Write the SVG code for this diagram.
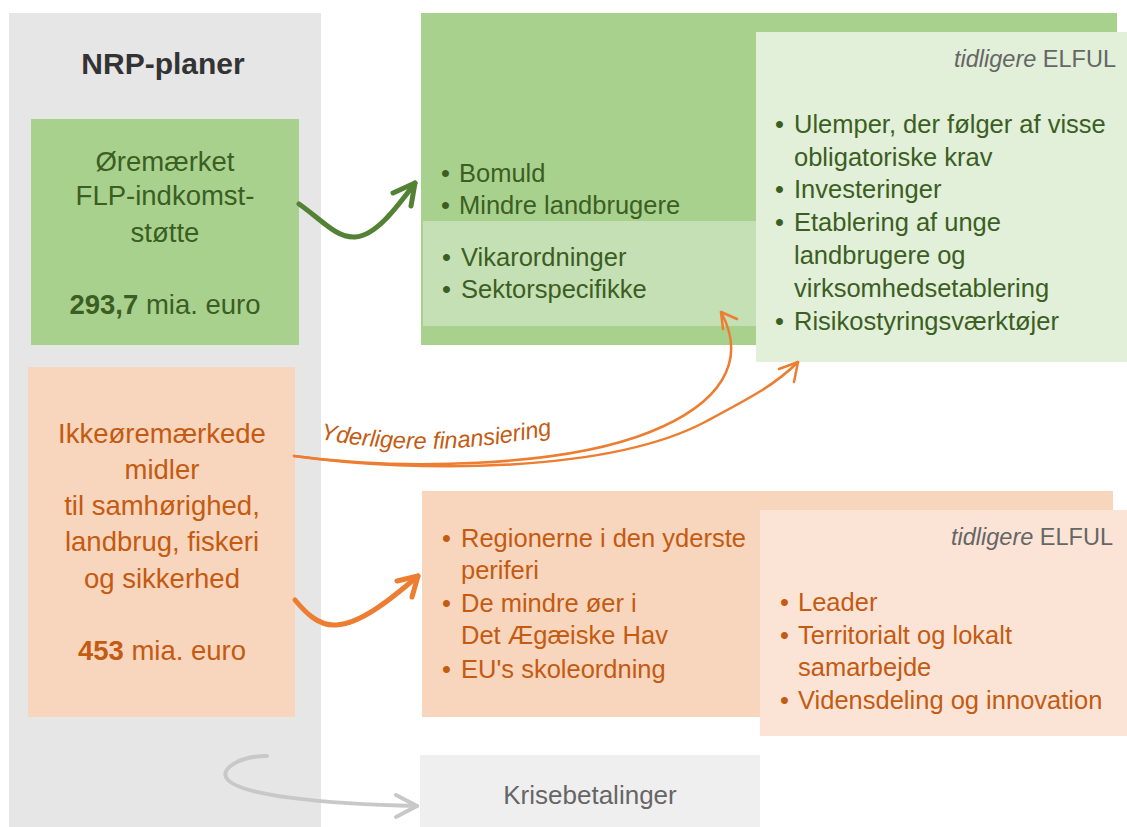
<svg xmlns="http://www.w3.org/2000/svg" width="1127" height="827" viewBox="0 0 1127 827">
<style>
text{font-family:"Liberation Sans",Arial,sans-serif;}
.g{fill:#3b5e23}
.o{fill:#c55a11}
.gr{fill:#666666}
.t28{font-size:27.5px}
.t24{font-size:25.5px}
.t22{font-size:23.5px}
.b{font-weight:bold}
.it{font-style:italic}
.mid{text-anchor:middle}
.end{text-anchor:end}
</style>
<defs>
<path id="lblpath" d="M320,439 Q440,462 566,431"/>
</defs>
<rect width="1127" height="827" fill="#ffffff"/>
<g id="nrp">
<rect x="9" y="13" width="312" height="814" fill="#e6e6e6"/>
<text x="163" y="74" class="mid b" font-size="30" fill="#333333">NRP-planer</text>
</g>
<g id="oremaerket">
<rect x="31" y="119" width="268" height="226" fill="#a9d18e"/>
<text class="g t28 mid" x="165"><tspan x="165" y="171">Øremærket</tspan><tspan x="165" y="205">FLP-indkomst-</tspan><tspan x="165" y="242">støtte</tspan><tspan x="165" y="314"><tspan font-weight="bold">293,7</tspan> mia. euro</tspan></text>
</g>
<g id="ikkeoremaerkede">
<rect x="28" y="367" width="267" height="350" fill="#f8d5bd"/>
<text class="o t28 mid" x="162"><tspan x="162" y="443">Ikkeøremærkede</tspan><tspan x="162" y="479">midler</tspan><tspan x="162" y="515">til samhørighed,</tspan><tspan x="162" y="551">landbrug, fiskeri</tspan><tspan x="162" y="588">og sikkerhed</tspan><tspan x="162" y="660"><tspan font-weight="bold">453</tspan> mia. euro</tspan></text>
</g>
<g id="green-main">
<rect x="421" y="13" width="696" height="332" fill="#a9d18e"/>
<text class="g t24"><tspan x="441" y="182">•</tspan><tspan x="441" y="214">•</tspan></text>
<text class="g t24"><tspan x="459" y="182">Bomuld</tspan><tspan x="459" y="214">Mindre landbrugere</tspan></text>
</g>
<g id="green-inner">
<rect x="423" y="221" width="333" height="105" fill="#c5e0b4"/>
<text class="g t24"><tspan x="442" y="266">•</tspan><tspan x="442" y="298">•</tspan></text>
<text class="g t24"><tspan x="461" y="266">Vikarordninger</tspan><tspan x="461" y="298">Sektorspecifikke</tspan></text>
</g>
<g id="green-elful">
<rect x="756" y="32" width="371" height="330" fill="#e2efd9"/>
<text class="gr t22 end" x="1116" y="67"><tspan font-style="italic">tidligere</tspan> ELFUL</text>
<text class="g t24"><tspan x="775" y="133">•</tspan><tspan x="775" y="198">•</tspan><tspan x="775" y="231">•</tspan><tspan x="775" y="330">•</tspan></text>
<text class="g t24"><tspan x="794" y="133">Ulemper, der følger af visse</tspan><tspan x="794" y="166">obligatoriske krav</tspan><tspan x="794" y="198">Investeringer</tspan><tspan x="794" y="231">Etablering af unge</tspan><tspan x="794" y="264">landbrugere og</tspan><tspan x="794" y="297">virksomhedsetablering</tspan><tspan x="794" y="330">Risikostyringsværktøjer</tspan></text>
</g>
<g id="orange-main">
<rect x="422" y="491" width="691" height="226" fill="#f8d5bd"/>
<text class="o t24"><tspan x="442" y="547">•</tspan><tspan x="442" y="612">•</tspan><tspan x="442" y="678">•</tspan></text>
<text class="o t24"><tspan x="461" y="547">Regionerne i den yderste</tspan><tspan x="461" y="579">periferi</tspan><tspan x="461" y="612">De mindre øer i</tspan><tspan x="461" y="644">Det Ægæiske Hav</tspan><tspan x="461" y="678">EU's skoleordning</tspan></text>
</g>
<g id="orange-elful">
<rect x="760" y="510" width="367" height="226" fill="#fbe4d6"/>
<text class="gr t22 end" x="1113" y="545"><tspan font-style="italic">tidligere</tspan> ELFUL</text>
<text class="o t24"><tspan x="780" y="611">•</tspan><tspan x="780" y="644">•</tspan><tspan x="780" y="709">•</tspan></text>
<text class="o t24"><tspan x="798" y="611">Leader</tspan><tspan x="798" y="644">Territorialt og lokalt</tspan><tspan x="798" y="676">samarbejde</tspan><tspan x="798" y="709">Vidensdeling og innovation</tspan></text>
</g>
<g id="krise">
<rect x="420" y="755" width="340" height="72" fill="#efefef"/>
<text class="gr mid" font-size="26" x="590" y="804">Krisebetalinger</text>
</g>
<g id="connectors" fill="none" stroke-linecap="round" stroke-linejoin="round">
<path d="M299,204 C322,220 336,238 355,237 C375,236 395,210 415,183" stroke="#548235" stroke-width="5"/>
<path d="M393,193 L415,183 L411,206" stroke="#548235" stroke-width="5"/>
<path d="M295,600 C305,612 318,626 336,625 C360,624 390,600 418,576" stroke="#ed7d31" stroke-width="5"/>
<path d="M397,581 L418,576 L412,597" stroke="#ed7d31" stroke-width="5"/>
<path d="M294,456 C400,470 560,468 650,432 C720,404 748,362 721,312" stroke="#ed7d31" stroke-width="2.5"/>
<path d="M737,319 L721,312 L723,329" stroke="#ed7d31" stroke-width="2.5"/>
<path d="M294,456 C420,474 610,472 705,422 C750,398 775,385 798,362" stroke="#ed7d31" stroke-width="2.5"/>
<path d="M779,369 L798,362 L794,382" stroke="#ed7d31" stroke-width="2.5"/>
<path d="M267,756 C240,756 222,768 226,777 C234,796 330,804 417,806" stroke="#c8c8c8" stroke-width="4"/>
<path d="M396,795 L417,806 L396,817" stroke="#c8c8c8" stroke-width="4"/>
<text class="o it" font-size="23.5"><textPath href="#lblpath">Yderligere finansiering</textPath></text>
</g>
</svg>
